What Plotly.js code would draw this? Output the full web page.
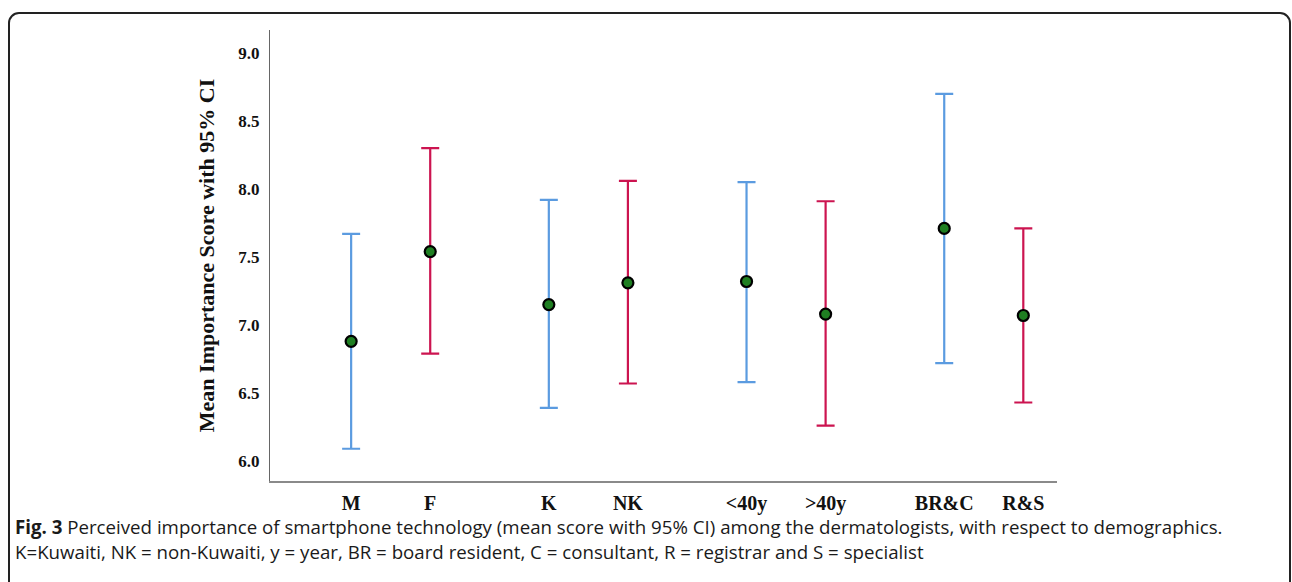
<!DOCTYPE html>
<html>
<head>
<meta charset="utf-8">
<script src="https://cdn.plot.ly/plotly-3.0.1.min.js"></script>
<style>
  html, body { margin: 0; padding: 0; width: 1292px; height: 582px; overflow: hidden; background: #fff; }
  #frame { position: absolute; left: 8px; top: 12px; width: 1283px; height: 640px;
           border: 2px solid #222; border-radius: 11px; box-sizing: border-box; }
  #chart { position: absolute; left: 0; top: 0; width: 1292px; height: 582px; }
</style>
</head>
<body>
<div id="frame"></div>
<div id="chart"></div>
<script>
// ---- data ----
const categories = ['M', 'F', 'K', 'NK', '<40y', '>40y', 'BR&C', 'R&S'];
const meanScore  = [6.88, 7.54, 7.15, 7.31, 7.32, 7.08, 7.71, 7.07];
const upperCI    = [7.67, 8.30, 7.92, 8.06, 8.05, 7.91, 8.70, 7.71];
const lowerCI    = [6.09, 6.79, 6.39, 6.57, 6.58, 6.26, 6.72, 6.43];
const yTicks     = [6.0, 6.5, 7.0, 7.5, 8.0, 8.5, 9.0];

// ---- layout helpers ----
const slot = [1, 2, 3.5, 4.5, 6, 7, 8.5, 9.5];   // horizontal slots (pairs grouped)
const esc = s => s.replace(/&/g, '&amp;').replace(/</g, '&lt;').replace(/>/g, '&gt;');
const serif = 'Liberation Serif, Times New Roman, serif';
const sans = 'Open Sans, Noto Sans, sans-serif';

function makeTrace(idx, color) {
  return {
    type: 'scatter', mode: 'markers',
    x: idx.map(i => slot[i]),
    y: idx.map(i => meanScore[i]),
    error_y: {
      type: 'data', symmetric: false,
      array: idx.map(i => +(upperCI[i] - meanScore[i]).toFixed(3)),
      arrayminus: idx.map(i => +(meanScore[i] - lowerCI[i]).toFixed(3)),
      color: color, thickness: 2.2, width: 9
    },
    marker: { size: 11, color: '#1f7f22', line: { color: '#000', width: 2.2 } },
    hoverinfo: 'x+y', showlegend: false
  };
}

const blueIdx = [0, 2, 4, 6];
const redIdx  = [1, 3, 5, 7];

const M = { l: 270, r: 235, t: 30, b: 101 };
const plotW = 1292 - M.l - M.r, plotH = 582 - M.t - M.b;
const px2paperX = px => (px - M.l) / plotW;
const px2paperY = py => (582 - M.b - py) / plotH;

const layout = {
  width: 1292, height: 582,
  margin: M,
  paper_bgcolor: 'rgba(0,0,0,0)', plot_bgcolor: 'rgba(0,0,0,0)',
  showlegend: false,
  xaxis: {
    range: [-0.026, 9.926],
    tickvals: slot, ticktext: categories.map(esc),
    ticks: '', showgrid: false, zeroline: false,
    showline: true, linecolor: '#8a8a8a', linewidth: 2,
    ticklabelstandoff: 3,
    tickfont: { family: serif, size: 20, color: '#111', weight: 'bold' }
  },
  yaxis: {
    range: [5.853, 9.169],
    tickvals: yTicks, ticktext: yTicks.map(v => v.toFixed(1)),
    ticks: '', showgrid: false, zeroline: false,
    showline: true, linecolor: '#666', linewidth: 1,
    ticklabelstandoff: 6,
    tickfont: { family: serif, size: 17, color: '#111', weight: 'bold' },
    title: { text: 'Mean Importance Score with 95% CI', standoff: 17,
             font: { family: serif, size: 22, color: '#111', weight: 'bold' } }
  },
  annotations: [
    { xref: 'paper', yref: 'paper', x: px2paperX(13), y: px2paperY(526),
      xanchor: 'left', yanchor: 'middle', showarrow: false, align: 'left',
      text: '<b>Fig. 3</b> Perceived importance of smartphone technology (mean score with 95% CI) among the dermatologists, with respect to demographics.',
      font: { family: sans, size: 18.7, color: '#1a1a1a' } },
    { xref: 'paper', yref: 'paper', x: px2paperX(13), y: px2paperY(551),
      xanchor: 'left', yanchor: 'middle', showarrow: false, align: 'left',
      text: 'K=Kuwaiti, NK = non-Kuwaiti, y = year, BR = board resident, C = consultant, R = registrar and S = specialist',
      font: { family: sans, size: 18.7, color: '#1a1a1a' } }
  ]
};

Plotly.newPlot('chart', [makeTrace(blueIdx, '#5b9be0'), makeTrace(redIdx, '#cc1450')], layout,
  { displayModeBar: false, staticPlot: true });
</script>
</body>
</html>
